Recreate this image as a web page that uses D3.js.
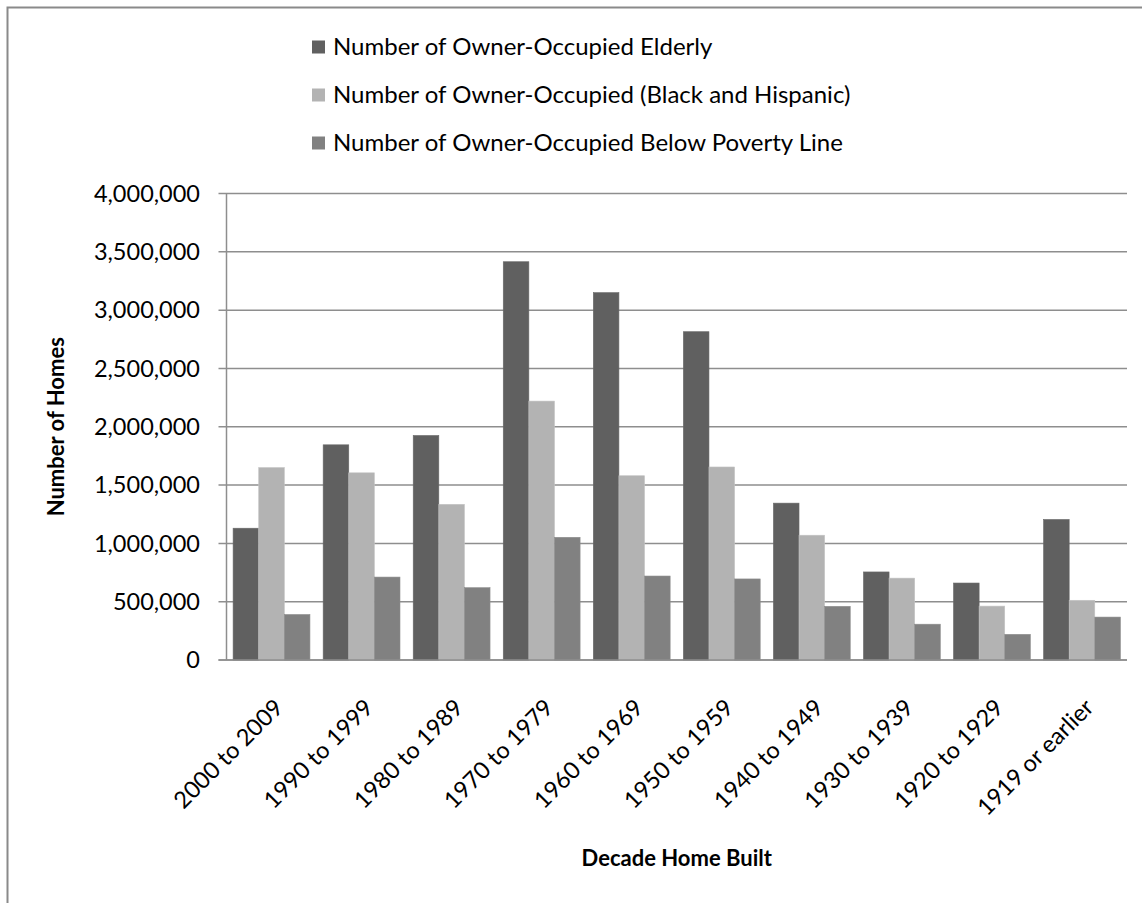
<!DOCTYPE html>
<html>
<head>
<meta charset="utf-8">
<script src="https://cdn.jsdelivr.net/npm/d3@7/dist/d3.min.js"></script>
<style>
  html, body { margin: 0; padding: 0; background: #ffffff; }
  svg { display: block; }
  text { font-family: Lato, "Open Sans", sans-serif; fill: #000; }
</style>
</head>
<body>
<svg id="chart" width="1142" height="903"></svg>
<script>
// ---- data ----
const categories = ["2000 to 2009", "1990 to 1999", "1980 to 1989", "1970 to 1979", "1960 to 1969",
                    "1950 to 1959", "1940 to 1949", "1930 to 1939", "1920 to 1929", "1919 or earlier"];
const seriesNames = ["Number of Owner-Occupied Elderly",
                     "Number of Owner-Occupied (Black and Hispanic)",
                     "Number of Owner-Occupied Below Poverty Line"];
const elderly       = [1130000, 1845000, 1925000, 3415000, 3150000, 2815000, 1345000, 755000, 660000, 1205000];
const blackHispanic = [1650000, 1605000, 1335000, 2220000, 1580000, 1655000, 1070000, 702000, 462000, 512000];
const poverty       = [390000, 711000, 620000, 1052000, 720000, 695000, 460000, 307000, 220000, 368000];
const yTicks = [0, 500000, 1000000, 1500000, 2000000, 2500000, 3000000, 3500000, 4000000];
const colors = ["#606060", "#b3b3b3", "#818181"];
const series = [elderly, blackHispanic, poverty];

// ---- layout ----
const svg = d3.select("#chart");
const plot = { left: 226.5, right: 1127, top: 193.5, bottom: 660 };
const fs = 23.5;

// outer frame
svg.append("rect")
  .attr("x", 7.5).attr("y", 7.5).attr("width", 1200).attr("height", 1000)
  .attr("fill", "none").attr("stroke", "#8a8a8a").attr("stroke-width", 2);

const x = d3.scaleBand().domain(categories).range([plot.left, plot.right]).paddingInner(0).paddingOuter(0);
const xs = d3.scaleBand().domain(d3.range(3)).range([0, x.bandwidth()]).paddingInner(0).paddingOuter(0.258);
const y = d3.scaleLinear().domain([0, 4000000]).range([plot.bottom, plot.top]);

// gridlines
svg.append("g").selectAll("line").data(yTicks).join("line")
  .attr("x1", plot.left - 8).attr("x2", plot.right)
  .attr("y1", d => y(d)).attr("y2", d => y(d))
  .attr("stroke", "#8e8e8e").attr("stroke-width", 1.5);

// y axis line
svg.append("line")
  .attr("x1", plot.left).attr("x2", plot.left)
  .attr("y1", plot.top).attr("y2", plot.bottom)
  .attr("stroke", "#8e8e8e").attr("stroke-width", 1.5);

// y tick labels
const fmt = d3.format(",");
svg.append("g").selectAll("text").data(yTicks).join("text")
  .attr("x", 200).attr("y", d => y(d)).attr("dy", "0.35em")
  .attr("text-anchor", "end").style("font-size", fs + "px")
  .text(d => fmt(d));

// bars
series.forEach((vals, si) => {
  svg.append("g").selectAll("rect").data(vals).join("rect")
    .attr("x", (d, i) => x(categories[i]) + xs(si))
    .attr("y", d => y(d))
    .attr("width", xs.bandwidth())
    .attr("height", d => y(0) - y(d))
    .attr("fill", colors[si])
    .attr("stroke", d3.color(colors[si]).brighter(0.25))
    .attr("stroke-width", 0.6);
});

// redraw baseline over bars
svg.append("line")
  .attr("x1", plot.left - 8).attr("x2", plot.right)
  .attr("y1", plot.bottom).attr("y2", plot.bottom)
  .attr("stroke", "#8e8e8e").attr("stroke-width", 1.5);

// x tick labels (rotated -45)
svg.append("g").selectAll("text").data(categories).join("text")
  .attr("transform", d => `translate(${x(d) + x.bandwidth() / 2 + 13},${709}) rotate(-45)`)
  .attr("text-anchor", "end").style("font-size", fs + "px")
  .text(d => d);

// axis titles
svg.append("text")
  .attr("transform", `translate(64,${(plot.top + plot.bottom) / 2}) rotate(-90)`)
  .attr("text-anchor", "middle").style("font-size", "22px").style("font-weight", "bold")
  .text("Number of Homes");

svg.append("text")
  .attr("x", (plot.left + plot.right) / 2).attr("y", 866)
  .attr("text-anchor", "middle").style("font-size", "22px").style("font-weight", "bold")
  .text("Decade Home Built");

// legend
const legend = svg.append("g");
const legRows = [47, 95, 143];
seriesNames.forEach((name, i) => {
  legend.append("rect").attr("x", 312).attr("y", legRows[i] - 6.5).attr("width", 13).attr("height", 13)
    .attr("fill", colors[i]);
  legend.append("text").attr("x", 333).attr("y", legRows[i]).attr("dy", "0.35em")
    .style("font-size", "24px").text(name);
});
</script>
</body>
</html>
